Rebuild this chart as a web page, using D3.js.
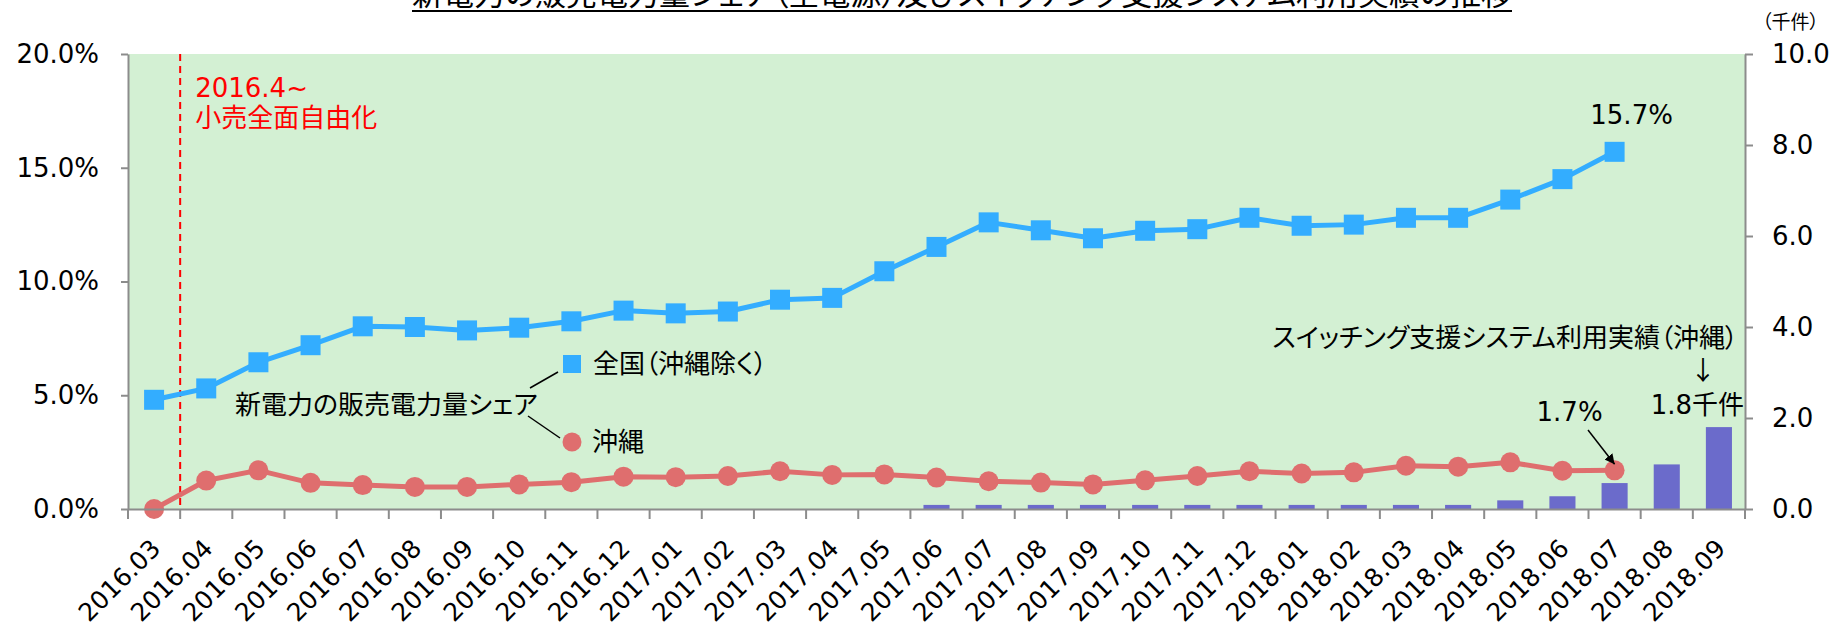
<!DOCTYPE html>
<html><head><meta charset="utf-8">
<script src="https://cdn.jsdelivr.net/npm/d3@7/dist/d3.min.js"></script>
<style>
body{margin:0;background:#fff;}
svg text{font-family:"DejaVu Sans","Noto Sans CJK JP",sans-serif;font-feature-settings:"palt";}
</style></head><body>
<svg id="c" width="1845" height="630"></svg>
<script>
// ---- data ----
const categories = ["2016.03","2016.04","2016.05","2016.06","2016.07","2016.08","2016.09","2016.10","2016.11","2016.12",
  "2017.01","2017.02","2017.03","2017.04","2017.05","2017.06","2017.07","2017.08","2017.09","2017.10","2017.11","2017.12",
  "2018.01","2018.02","2018.03","2018.04","2018.05","2018.06","2018.07","2018.08","2018.09"];
// 新電力の販売電力量シェア 全国（沖縄除く） (%)
const nationalShare = [4.8,5.3,6.45,7.2,8.03,8.0,7.85,7.97,8.25,8.72,
  8.6,8.68,9.2,9.28,10.45,11.52,12.6,12.25,11.9,12.23,12.3,12.8,
  12.45,12.5,12.8,12.8,13.6,14.5,15.7];
// 新電力の販売電力量シェア 沖縄 (%)
const okinawaShare = [0,1.25,1.7,1.15,1.05,0.97,0.97,1.08,1.18,1.42,
  1.4,1.45,1.66,1.5,1.52,1.38,1.22,1.16,1.08,1.26,1.45,1.66,
  1.56,1.61,1.9,1.86,2.05,1.68,1.7];
// スイッチング支援システム利用実績（沖縄） (千件)
const switchingCount = [null,null,null,null,null,null,null,null,null,null,
  null,null,null,null,null,0.09,0.09,0.09,0.09,0.09,0.09,0.09,
  0.09,0.09,0.09,0.09,0.19,0.28,0.57,0.98,1.8];
const leftTicks = [0,5,10,15,20];
const rightTicks = [0,2,4,6,8,10];
const titleText = "新電力の販売電力量シェア（全電源）及びスイッチング支援システム利用実績の推移";

// ---- layout ----
const L = 128, R = 1745, T = 54, B = 509;
const svg = d3.select("#c");
const x = d3.scaleBand().domain(categories).range([L, R]).padding(0);
const yL = d3.scaleLinear().domain([0, 20]).range([B, T]);
const yR = d3.scaleLinear().domain([0, 10]).range([B, T]);
const cx = c => x(c) + x.bandwidth() / 2;
const axisColor = "#8c8c8c";
const blue = "#33adff", red = "#df6e6e", barColor = "#6b6bcb";

// title
const title = svg.append("text").attr("x", 962).attr("y", 5).attr("text-anchor", "middle")
  .attr("font-size", 31).attr("fill", "#000").text(titleText);
const tw = title.node().getComputedTextLength();
svg.append("line").attr("x1", 962 - tw / 2).attr("x2", 962 + tw / 2).attr("y1", 11).attr("y2", 11)
  .attr("stroke", "#000").attr("stroke-width", 2);

// plot background
svg.append("rect").attr("x", L).attr("y", T).attr("width", R - L).attr("height", B - T).attr("fill", "#d3f0d3");

// bars
const barW = x.bandwidth() * 0.5;
svg.append("g").selectAll("rect")
  .data(categories.map((c, i) => ({c, v: switchingCount[i]})).filter(d => d.v != null))
  .join("rect")
  .attr("x", d => cx(d.c) - barW / 2).attr("width", barW)
  .attr("y", d => yR(d.v)).attr("height", d => yR(0) - yR(d.v))
  .attr("fill", barColor);

// retail liberalization dashed line
svg.append("line").attr("x1", x(categories[1])).attr("x2", x(categories[1]))
  .attr("y1", T).attr("y2", B).attr("stroke", "#ff0000").attr("stroke-width", 2)
  .attr("stroke-dasharray", "7,5");
svg.append("text").attr("x", x(categories[1]) + 15).attr("y", 88).attr("dy", "0.35em")
  .attr("font-size", 26).attr("fill", "#ff0000").text("2016.4~");
svg.append("text").attr("x", x(categories[1]) + 15).attr("y", 118).attr("dy", "0.35em")
  .attr("font-size", 26).attr("fill", "#ff0000").text("小売全面自由化");

// lines
const natData = nationalShare.map((v, i) => ({c: categories[i], v}));
const okiData = okinawaShare.map((v, i) => ({c: categories[i], v}));
const lineGen = d3.line().x(d => cx(d.c)).y(d => yL(d.v));
svg.append("path").datum(okiData).attr("d", lineGen).attr("fill", "none")
  .attr("stroke", red).attr("stroke-width", 5).attr("stroke-linejoin", "round");
svg.append("g").selectAll("circle").data(okiData).join("circle")
  .attr("cx", d => cx(d.c)).attr("cy", d => yL(d.v)).attr("r", 10).attr("fill", red);
svg.append("path").datum(natData).attr("d", lineGen).attr("fill", "none")
  .attr("stroke", blue).attr("stroke-width", 5).attr("stroke-linejoin", "round");
const sq = 20;
svg.append("g").selectAll("rect").data(natData).join("rect")
  .attr("x", d => cx(d.c) - sq / 2).attr("y", d => yL(d.v) - sq / 2)
  .attr("width", sq).attr("height", sq).attr("fill", blue);

// axes
const gL = svg.append("g").attr("transform", `translate(${L},0)`)
  .call(d3.axisLeft(yL).tickValues(leftTicks).tickSize(7).tickSizeOuter(0).tickPadding(22)
    .tickFormat(d => d.toFixed(1) + "%"));
const gR = svg.append("g").attr("transform", `translate(${R},0)`)
  .call(d3.axisRight(yR).tickValues(rightTicks).tickSize(8).tickSizeOuter(0).tickPadding(19)
    .tickFormat(d => d.toFixed(1)));
[gL, gR].forEach(g => {
  g.select(".domain").attr("stroke", axisColor).attr("stroke-width", 2);
  g.selectAll(".tick line").attr("stroke", axisColor).attr("stroke-width", 2);
  g.selectAll(".tick text").attr("font-size", 26).attr("fill", "#000").attr("font-family", null);
});
const gB = svg.append("g").attr("transform", `translate(0,${B})`)
  .call(d3.axisBottom(x).tickSize(0).tickSizeOuter(0).tickPadding(0));
gB.select(".domain").attr("stroke", axisColor).attr("stroke-width", 2);
gB.selectAll(".tick text").attr("font-size", 25).attr("fill", "#000").attr("font-family", null)
  .attr("text-anchor", "end").attr("y", 0).attr("dy", 0)
  .attr("transform", "translate(8,41) rotate(-45)");
// boundary ticks
const bounds = categories.map(c => x(c)).concat([R]);
svg.append("g").selectAll("line").data(bounds).join("line")
  .attr("x1", d => d).attr("x2", d => d).attr("y1", B).attr("y2", B + 10)
  .attr("stroke", axisColor).attr("stroke-width", 2);

svg.append("text").attr("x", 1762).attr("y", 22).attr("dy", "0.35em").attr("font-size", 19)
  .attr("fill", "#000").text("（千件）");

// legend
svg.append("text").attr("x", 235).attr("y", 405).attr("dy", "0.35em").attr("font-size", 26)
  .attr("fill", "#000").text("新電力の販売電力量シェア");
svg.append("line").attr("x1", 530).attr("y1", 388).attr("x2", 558).attr("y2", 372)
  .attr("stroke", "#000").attr("stroke-width", 1.5);
svg.append("line").attr("x1", 528).attr("y1", 416).attr("x2", 560).attr("y2", 438)
  .attr("stroke", "#000").attr("stroke-width", 1.5);
svg.append("rect").attr("x", 563).attr("y", 355).attr("width", 18).attr("height", 18).attr("fill", blue);
svg.append("text").attr("x", 593).attr("y", 364).attr("dy", "0.35em").attr("font-size", 26)
  .attr("fill", "#000").text("全国（沖縄除く）");
svg.append("circle").attr("cx", 572).attr("cy", 442).attr("r", 9.5).attr("fill", red);
svg.append("text").attr("x", 592).attr("y", 442).attr("dy", "0.35em").attr("font-size", 26)
  .attr("fill", "#000").text("沖縄");

// annotations
const lastNat = natData[natData.length - 1], lastOki = okiData[okiData.length - 1];
svg.append("text").attr("x", cx(lastNat.c) + 17).attr("y", 115).attr("dy", "0.35em")
  .attr("text-anchor", "middle").attr("font-size", 26).attr("fill", "#000")
  .text(lastNat.v.toFixed(1) + "%");
svg.append("text").attr("x", cx(lastOki.c) - 45).attr("y", 412).attr("dy", "0.35em")
  .attr("text-anchor", "middle").attr("font-size", 26).attr("fill", "#000")
  .text(lastOki.v.toFixed(1) + "%");
svg.append("defs").append("marker").attr("id", "ah").attr("viewBox", "0 0 10 10")
  .attr("refX", 10).attr("refY", 5).attr("markerWidth", 10).attr("markerHeight", 10)
  .attr("markerUnits", "userSpaceOnUse").attr("orient", "auto")
  .append("path").attr("d", "M0,0 L10,5 L0,10 Z").attr("fill", "#000");
svg.append("line").attr("x1", 1588).attr("y1", 430).attr("x2", cx(lastOki.c)).attr("y2", yL(lastOki.v) - 6)
  .attr("stroke", "#000").attr("stroke-width", 1.5).attr("marker-end", "url(#ah)");
svg.append("text").attr("x", 1738).attr("y", 338).attr("dy", "0.35em").attr("text-anchor", "end")
  .attr("font-size", 26).attr("fill", "#000").text("スイッチング支援システム利用実績（沖縄）");
svg.append("text").attr("x", 1703).attr("y", 371).attr("dy", "0.35em").attr("text-anchor", "middle")
  .attr("font-size", 26).attr("fill", "#000").style("font-family", "'Noto Sans CJK JP'").text("↓");
svg.append("text").attr("x", 1744).attr("y", 405).attr("dy", "0.35em").attr("text-anchor", "end")
  .attr("font-size", 26).attr("fill", "#000")
  .text(switchingCount[switchingCount.length - 1].toFixed(1) + "千件");
</script>
</body></html>
